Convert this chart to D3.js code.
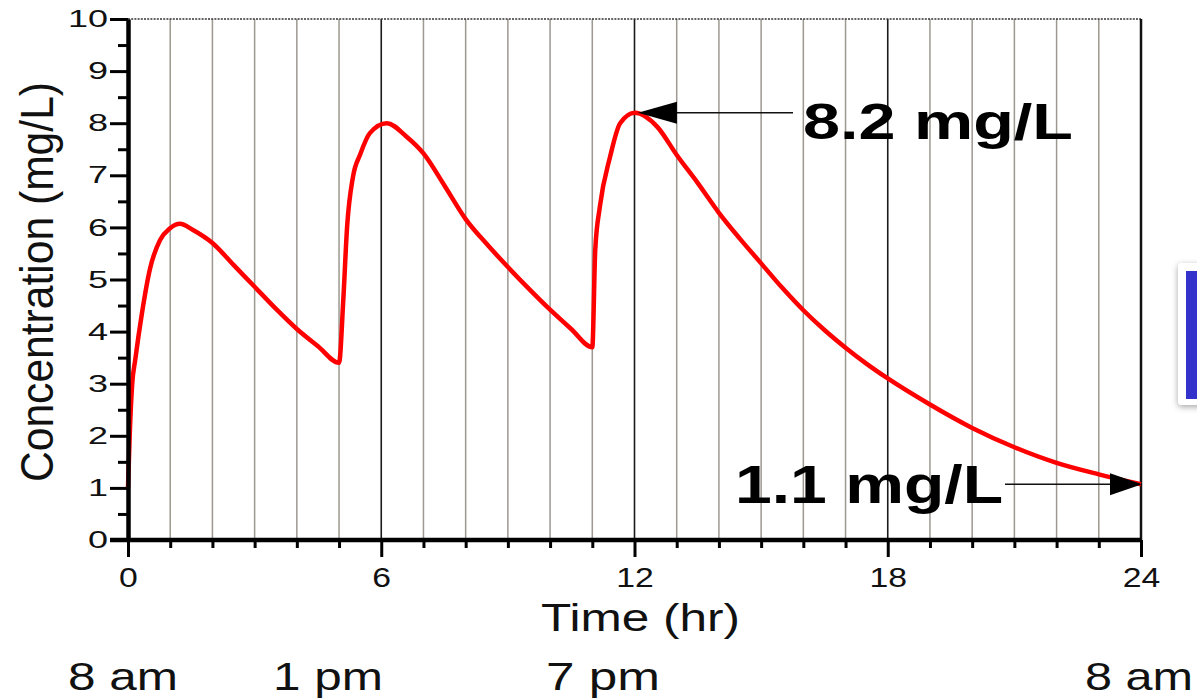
<!DOCTYPE html>
<html>
<head>
<meta charset="utf-8">
<script src="https://cdn.jsdelivr.net/npm/d3@7"></script>
<style>
  html, body { margin: 0; padding: 0; background: #ffffff; }
  svg { display: block; font-family: "Liberation Sans", Arial, Helvetica, sans-serif; }
</style>
</head>
<body>
<svg id="chart" width="1197" height="699"></svg>
<script>
// ---- data ----
const timeHr = [0, 0.04, 0.1, 0.17, 0.33, 0.52, 0.76, 0.99, 1.23, 1.54, 2, 2.5, 3, 3.5, 4, 4.5, 5,
                5.1, 5.19, 5.33, 5.5, 5.73, 6.13, 6.6, 7, 7.5, 8, 8.5, 9, 9.5, 10, 10.5, 11,
                11.07, 11.18, 11.42, 11.66, 12.01, 12.54, 13, 13.5, 14, 14.5, 15, 15.5, 16, 16.5, 17,
                17.5, 18, 19, 20, 21, 22, 23, 24];
const concMgL = [1.0, 2.0, 3.0, 3.45, 4.35, 5.2, 5.76, 5.98, 6.07, 5.95, 5.70, 5.28, 4.86, 4.44, 4.05, 3.72, 3.40,
                 4.6, 6.0, 6.97, 7.4, 7.81, 8.0, 7.74, 7.42, 6.8, 6.16, 5.68, 5.24, 4.82, 4.42, 4.05, 3.70,
                 5.57, 6.4, 7.35, 8.0, 8.2, 7.93, 7.39, 6.85, 6.28, 5.78, 5.31, 4.84, 4.41, 4.03, 3.69,
                 3.38, 3.1, 2.6, 2.15, 1.78, 1.48, 1.26, 1.07];
const xTickValues = d3.range(0, 25, 1);
const xTickLabels = ["0", "6", "12", "18", "24"];
const yTickValues = d3.range(0, 10.01, 0.5);
const yTickLabels = ["0","1","2","3","4","5","6","7","8","9","10"];
const clockLabels = ["8 am", "1 pm", "7 pm", "8 am"];
const annotLabels = ["8.2 mg/L", "1.1 mg/L"];
const annotTime = [12.01, 24];
const annotConc = [8.2, 1.07];
const xTitle = "Time (hr)";
const yTitle = "Concentration (mg/L)";

// ---- layout ----
const svg = d3.select("#chart");
const x = d3.scaleLinear().domain([0, 24]).range([128, 1141]);
const y = d3.scaleLinear().domain([0, 10]).range([540, 19]);

// grid lines
svg.append("g").selectAll("line")
  .data(d3.range(1, 24))
  .join("line")
  .attr("x1", d => x(d)).attr("x2", d => x(d))
  .attr("y1", y(10)).attr("y2", y(0))
  .attr("stroke", d => d % 6 === 0 ? "#1a1a1a" : "#9d9890")
  .attr("stroke-width", d => d % 6 === 0 ? 1.6 : 1.5);

// top dotted border
svg.append("line")
  .attr("x1", x(0)).attr("x2", x(24)).attr("y1", y(10)).attr("y2", y(10))
  .attr("stroke", "#333").attr("stroke-width", 1.5).attr("stroke-dasharray", "2,1.2");
// right border
svg.append("line")
  .attr("x1", x(24)).attr("x2", x(24)).attr("y1", y(10)).attr("y2", y(0))
  .attr("stroke", "#111").attr("stroke-width", 2.5);

// curve
const pts = timeHr.map((t, i) => [t, concMgL[i]]);
svg.append("path")
  .datum(pts)
  .attr("fill", "none")
  .attr("stroke", "#ff0000")
  .attr("stroke-width", 4.5)
  .attr("stroke-linejoin", "round")
  .attr("d", d3.line().x(d => x(d[0])).y(d => y(d[1])).curve(d3.curveMonotoneX));

// y axis
const yAxis = svg.append("g")
  .attr("transform", `translate(${x(0)},0)`)
  .call(d3.axisLeft(y).tickValues(yTickValues).tickSize(18).tickSizeOuter(0)
    .tickFormat(d => Number.isInteger(d) ? yTickLabels[d] : ""));
yAxis.select(".domain").attr("stroke", "#000").attr("stroke-width", 4.5);
yAxis.selectAll(".tick line").attr("stroke", "#000").attr("stroke-width", 3)
  .attr("x2", d => Number.isInteger(d) ? -18 : -10);
yAxis.selectAll(".tick text")
  .attr("x", -20).attr("fill", "#111")
  .style("font-size", "24px").style("font-family", "Liberation Sans, Arial, sans-serif")
  .each(function() {
    const w = this.getComputedTextLength();
    if (w > 0) d3.select(this).attr("textLength", w * 1.5).attr("lengthAdjust", "spacingAndGlyphs");
  });

// x axis
const xAxis = svg.append("g")
  .attr("transform", `translate(0,${y(0)})`)
  .call(d3.axisBottom(x).tickValues(xTickValues).tickSize(8).tickSizeOuter(0)
    .tickFormat(d => d % 6 === 0 ? xTickLabels[d / 6] : ""));
xAxis.select(".domain").attr("stroke", "#000").attr("stroke-width", 4.5)
  .attr("d", `M${x(0) - 18},0H${x(24)}`);
xAxis.selectAll(".tick line").attr("stroke", "#000").attr("stroke-width", 3)
  .attr("y2", d => d % 6 === 0 ? 17 : 8);
xAxis.selectAll(".tick text")
  .attr("y", 47).attr("dy", 0).attr("fill", "#111")
  .style("font-size", "27px").style("font-family", "Liberation Sans, Arial, sans-serif")
  .each(function() {
    const w = this.getComputedTextLength();
    if (w > 0) d3.select(this).attr("textLength", w * 1.25).attr("lengthAdjust", "spacingAndGlyphs");
  });

// axis titles
svg.append("text")
  .attr("x", 541).attr("y", 631)
  .attr("font-size", 39).attr("fill", "#111")
  .attr("textLength", 199).attr("lengthAdjust", "spacingAndGlyphs")
  .text(xTitle);
svg.append("text")
  .attr("transform", "translate(53,482) rotate(-90)")
  .attr("font-size", 47).attr("fill", "#111")
  .attr("textLength", 400).attr("lengthAdjust", "spacingAndGlyphs")
  .text(yTitle);

// clock labels
const clockX = [68, 273, 546, 1085];
const clockW = [110, 110, 114, 108];
svg.append("g").selectAll("text")
  .data(clockLabels)
  .join("text")
  .attr("x", (d, i) => clockX[i]).attr("y", 690)
  .attr("font-size", 39).attr("fill", "#111")
  .attr("textLength", (d, i) => clockW[i]).attr("lengthAdjust", "spacingAndGlyphs")
  .text(d => d);

// annotations
// 8.2 mg/L arrow pointing left to the peak
const a0x = x(annotTime[0]) + 3, a0y = y(annotConc[0]);
svg.append("line").attr("x1", a0x + 35).attr("x2", 793).attr("y1", a0y).attr("y2", a0y)
  .attr("stroke", "#111").attr("stroke-width", 1.6);
svg.append("path")
  .attr("d", `M${a0x},${a0y} L${a0x + 39},${a0y - 11} L${a0x + 39},${a0y + 11} Z`)
  .attr("fill", "#000");
svg.append("text")
  .attr("x", 803).attr("y", 139)
  .attr("font-size", 50).attr("font-weight", "bold").attr("fill", "#000")
  .attr("textLength", 270).attr("lengthAdjust", "spacingAndGlyphs")
  .text(annotLabels[0]);

// 1.1 mg/L arrow pointing right to the end
const a1x = x(annotTime[1]), a1y = y(annotConc[1]);
svg.append("line").attr("x1", 1005).attr("x2", a1x - 30).attr("y1", a1y).attr("y2", a1y)
  .attr("stroke", "#111").attr("stroke-width", 1.6);
svg.append("path")
  .attr("d", `M${a1x + 1},${a1y} L${a1x - 31},${a1y - 11} L${a1x - 31},${a1y + 11} Z`)
  .attr("fill", "#000");
svg.append("text")
  .attr("x", 735).attr("y", 503)
  .attr("font-size", 54).attr("font-weight", "bold").attr("fill", "#000")
  .attr("textLength", 268).attr("lengthAdjust", "spacingAndGlyphs")
  .text(annotLabels[1]);

// partially visible blue box at the right edge
const defs = svg.append("defs");
const f = defs.append("filter").attr("id", "shadow").attr("x", "-50%").attr("y", "-20%").attr("width", "200%").attr("height", "140%");
f.append("feDropShadow").attr("dx", 0).attr("dy", 2).attr("stdDeviation", 3).attr("flood-color", "#000").attr("flood-opacity", 0.35);
svg.append("rect").attr("x", 1178).attr("y", 263).attr("width", 40).attr("height", 142).attr("rx", 4)
  .attr("fill", "#fff").attr("filter", "url(#shadow)");
svg.append("rect").attr("x", 1186).attr("y", 271).attr("width", 30).attr("height", 128)
  .attr("fill", "#3333cc");
</script>
</body>
</html>
